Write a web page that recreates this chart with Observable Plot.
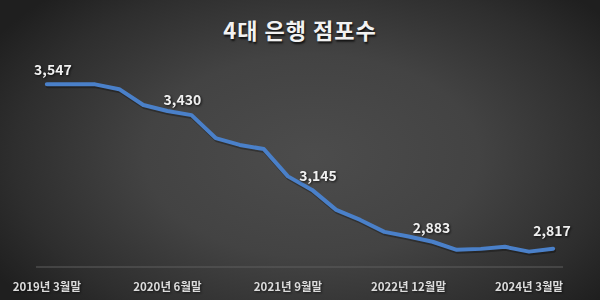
<!DOCTYPE html>
<html>
<head>
<meta charset="utf-8">
<script src="https://cdn.jsdelivr.net/npm/d3@7"></script>
<script src="https://cdn.jsdelivr.net/npm/@observablehq/plot@0.6"></script>
<style>
  html, body { margin: 0; padding: 0; }
  #wrap {
    position: relative; width: 600px; height: 300px; overflow: hidden;
    background: radial-gradient(ellipse 62% 75% at 52% 52%, #4c4c4c 0%, #434343 45%, #2e2e2e 80%, #1f1f1f 100%);
    font-family: "Noto Sans CJK KR", "Noto Sans", sans-serif;
  }
  #title {
    position: absolute; left: 0; right: 0; top: 12px; text-align: center;
    font-size: 22px; font-weight: 700; letter-spacing: 1px; color: #f2f2f2;
    text-shadow: 1px 2px 2px rgba(0,0,0,0.75); line-height: 34px;
  }
  #chart svg { display: block; }
  .vlabel text { filter: drop-shadow(1px 1.5px 1px rgba(0,0,0,0.7)); }
  .xaxis text { filter: drop-shadow(1px 1px 1px rgba(0,0,0,0.6)); }
</style>
</head>
<body>
<div id="wrap">
  <div id="chart"></div>
  <div id="title">4대 은행 점포수</div>
</div>
<script>
// Quarter-end periods (x categories)
const quarters = [
  "2019년 3월말","2019년 6월말","2019년 9월말","2019년 12월말",
  "2020년 3월말","2020년 6월말","2020년 9월말","2020년 12월말",
  "2021년 3월말","2021년 6월말","2021년 9월말","2021년 12월말",
  "2022년 3월말","2022년 6월말","2022년 9월말","2022년 12월말",
  "2023년 3월말","2023년 6월말","2023년 9월말","2023년 12월말",
  "2024년 3월말","2024년 6월말"
];
// Number of branches of the 4 major banks
const branches = [
  3547, 3546, 3546, 3525,
  3456, 3430, 3412, 3312,
  3282, 3264, 3145, 3086,
  2999, 2955, 2903, 2883,
  2860, 2825, 2829, 2838,
  2817, 2830
];
// Axis tick labels
const tickLabels = ["2019년 3월말","2020년 6월말","2021년 9월말","2022년 12월말","2024년 3월말"];
// Periods with value labels
const labelled = ["2019년 3월말","2020년 6월말","2021년 9월말","2022년 12월말","2024년 3월말"];

const data = quarters.map((q, i) => ({i, q, v: branches[i]}));
const tickIdx = tickLabels.map(t => quarters.indexOf(t));
const labelData = labelled.map(q => data[quarters.indexOf(q)]);

// styling nudges for the value labels (as in the original layout)
const nudges = [[6, -14], [15, -10], [30, 0], [23, -8], [23, -20]];

const fmt = d3.format(",");
const labelMarks = labelData.map((d, k) =>
  Plot.text([d], {
    x: "i", y: "v", text: d => fmt(d.v),
    dx: nudges[k][0], dy: nudges[k][1],
    fill: "#f0f0f0", fontSize: 14, fontWeight: "bold",
    className: "vlabel"
  })
);

const chart = Plot.plot({
  width: 600, height: 300,
  marginLeft: 36, marginRight: 37, marginTop: 60, marginBottom: 33.5,
  style: { background: "transparent", fontFamily: "'Noto Sans CJK KR', 'Noto Sans', sans-serif" },
  x: { domain: [-0.43, quarters.length - 1 + 0.43], axis: null },
  y: { domain: [2750, 3650], axis: null },
  marks: [
    Plot.ruleY([2750], { stroke: "#5f5f5f", strokeWidth: 1 }),
    Plot.line(data, { x: "i", y: "v", stroke: "#000", strokeOpacity: 0.3, strokeWidth: 4, dx: 1, dy: 2, strokeLinejoin: "round" }),
    Plot.line(data, { x: "i", y: "v", stroke: "#4a80c9", strokeWidth: 4, strokeLinejoin: "round", strokeLinecap: "round" }),
    Plot.axisX({
      ticks: tickIdx, tickFormat: i => quarters[i],
      tickSize: 0, tickPadding: 16, fontSize: 11.5, fontWeight: "bold",
      fill: "#dcdcdc", className: "xaxis", label: null
    }),
    ...labelMarks
  ]
});
document.getElementById("chart").appendChild(chart);
</script>
</body>
</html>
